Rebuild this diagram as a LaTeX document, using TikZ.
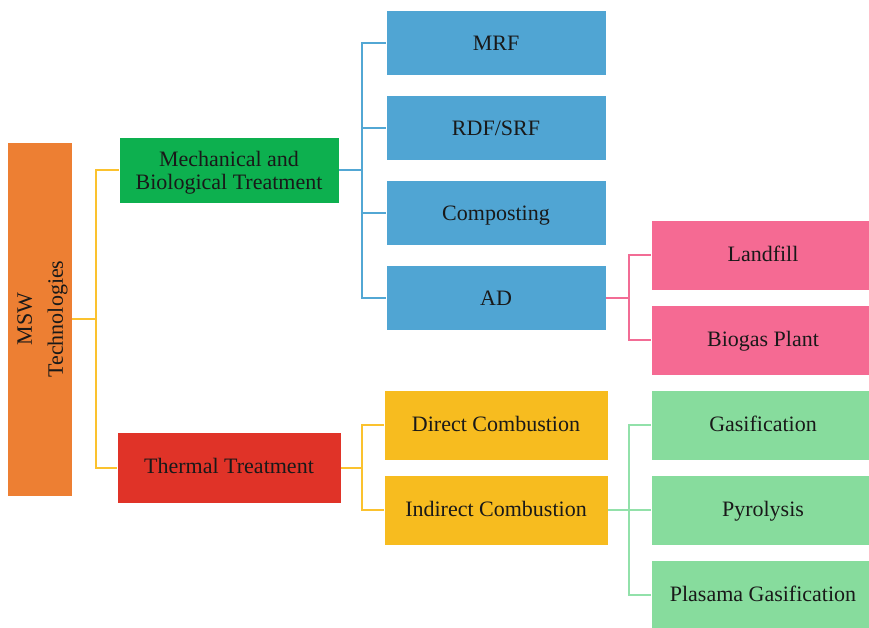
\documentclass[tikz,border=0pt]{standalone}
\usepackage{fontspec}
\setmainfont{Liberation Serif}
\definecolor{cOrange}{HTML}{ED7F33}
\definecolor{cGreen}{HTML}{0DB04F}
\definecolor{cRed}{HTML}{E03328}
\definecolor{cBlue}{HTML}{50A5D3}
\definecolor{cYellow}{HTML}{F7BC1F}
\definecolor{cPink}{HTML}{F56A93}
\definecolor{cMint}{HTML}{87DC9D}
\definecolor{lYellow}{HTML}{FBC22E}
\definecolor{lBlue}{HTML}{52A7D4}
\definecolor{lPink}{HTML}{F26C95}
\definecolor{lMint}{HTML}{92E1AA}
\begin{document}
\begin{tikzpicture}[x=1pt,y=-1pt,
  box/.style={draw=white, line width=0.6pt, inner sep=0pt, align=center,
    font=\fontsize{22}{24}\selectfont, text=black!90},
  boxtext/.style={inner sep=0pt, align=center, text=black!90},
  wide/.style={box, minimum width=220pt, minimum height=65pt,
    text height=17pt, text depth=3pt},
  tall/.style={box, minimum width=224pt, minimum height=70pt,
    text height=17pt, text depth=4pt},
  link/.style={line width=2pt}]
\useasboundingbox (0,0) rectangle (869,627);

% root, text set sideways
\node[box, fill=cOrange, minimum width=65pt, minimum height=354pt,
  label={[boxtext, rotate=90, yshift=-3pt,
    font=\fontsize{22}{31}\selectfont]center:MSW\\Technologies}] (msw) at (39.5,319) {};

% first level
\node[box, fill=cGreen, minimum width=220pt, minimum height=66pt,
  label={[boxtext, yshift=-3pt,
    font=\fontsize{22}{23}\selectfont]center:Mechanical and\\Biological Treatment}] (mbt) at (229,170) {};
\node[box, fill=cRed, minimum width=224pt, minimum height=71pt,
  text height=16pt, text depth=5pt] (tt) at (229,467.5)
  {Thermal Treatment};

% mechanical and biological branch
\node[wide, fill=cBlue] (mrf) at (496,43) {MRF};
\node[wide, fill=cBlue] (rdf) at (496,128) {RDF/SRF};
\node[wide, fill=cBlue] (comp) at (496,213) {Composting};
\node[wide, fill=cBlue] (ad) at (496,298) {AD};

\node[tall, fill=cPink] (landfill) at (763,255) {Landfill};
\node[tall, fill=cPink] (biogas) at (763,340) {Biogas Plant};

% thermal branch
\node[tall, fill=cYellow] (direct) at (496,425) {Direct Combustion};
\node[tall, fill=cYellow] (indirect) at (496,510) {Indirect Combustion};

\node[tall, fill=cMint] (gas) at (763,425) {Gasification};
\node[tall, fill=cMint] (pyro) at (763,510) {Pyrolysis};
\node[tall, fill=cMint] (plasma) at (763,595) {Plasama Gasification};

% connectors
\draw[link, lYellow] (msw.east) -- ++(24,0) |- (mbt.west);
\draw[link, lYellow] (msw.east) ++(24,0) |- (tt.west);

\draw[link, lBlue] (mbt.east) -- ++(23,0) |- (mrf.west);
\draw[link, lBlue] (mbt.east) ++(23,0) |- (rdf.west);
\draw[link, lBlue] (mbt.east) ++(23,0) |- (comp.west);
\draw[link, lBlue] (mbt.east) ++(23,0) |- (ad.west);

\draw[link, lPink] (ad.east) -- ++(23,0) |- (landfill.west);
\draw[link, lPink] (ad.east) ++(23,0) |- (biogas.west);

\draw[link, lYellow] (tt.east) -- ++(21,0) |- (direct.west);
\draw[link, lYellow] (tt.east) ++(21,0) |- (indirect.west);

\draw[link, lMint] (indirect.east) -- (pyro.west);
\draw[link, lMint] (indirect.east) ++(21,0) |- (gas.west);
\draw[link, lMint] (indirect.east) ++(21,0) |- (plasma.west);
\end{tikzpicture}
\end{document}
